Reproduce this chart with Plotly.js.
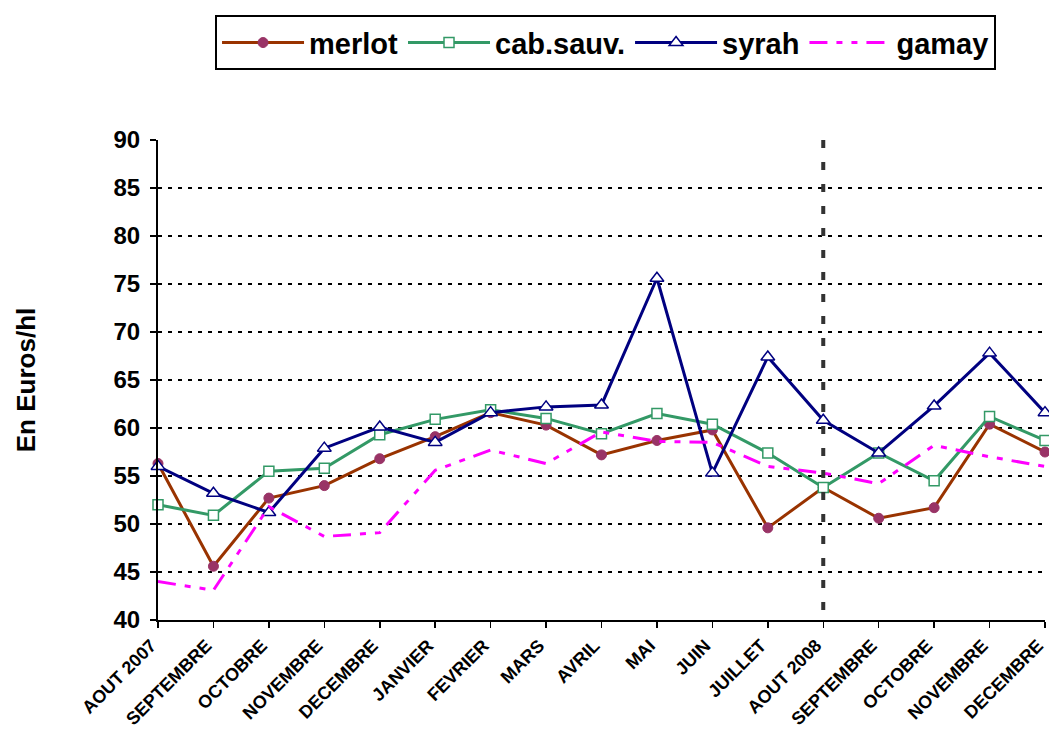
<!DOCTYPE html>
<html>
<head>
<meta charset="utf-8">
<script src="https://cdn.plot.ly/plotly-3.0.1.min.js"></script>
<style>html,body{margin:0;padding:0;background:#fff;}#chart{width:1049px;height:736px;}</style>
</head>
<body>
<div id="chart"></div>
<script>
const months = ['AOUT 2007','SEPTEMBRE','OCTOBRE','NOVEMBRE','DECEMBRE','JANVIER','FEVRIER','MARS','AVRIL','MAI','JUIN','JUILLET','AOUT 2008','SEPTEMBRE','OCTOBRE','NOVEMBRE','DECEMBRE'];
const merlot = [56.3, 45.6, 52.7, 54.0, 56.8, 59.1, 61.6, 60.3, 57.2, 58.7, 59.8, 49.6, 53.8, 50.6, 51.7, 60.4, 57.5];
const cabSauv = [52.0, 50.9, 55.5, 55.8, 59.3, 60.9, 61.9, 61.0, 59.4, 61.5, 60.4, 57.4, 53.8, 57.4, 54.5, 61.2, 58.7];
const syrah = [56.0, 53.2, 51.2, 57.9, 60.1, 58.5, 61.6, 62.2, 62.4, 75.6, 55.3, 67.4, 60.8, 57.4, 62.3, 67.8, 61.6];
const gamay = [44.0, 43.1, 51.8, 48.7, 49.1, 55.6, 57.7, 56.3, 59.6, 58.6, 58.5, 56.0, 55.3, 54.2, 58.2, 57.0, 56.0];
const seriesNames = ['merlot','cab.sauv.','syrah','gamay'];
const markerMonth = 'AOUT 2008';
const yTicks = [40,45,50,55,60,65,70,75,80,85,90];

const idx = months.map((m,i)=>i);
const FONT = 'Liberation Sans, Arial, sans-serif';

const traces = [
  {x: idx, y: merlot, name: seriesNames[0], mode: 'lines+markers', cliponaxis: false,
   line: {color: '#993300', width: 3},
   marker: {symbol: 'circle', size: 10, color: '#993366', line: {color: '#993366', width: 1}}},
  {x: idx, y: cabSauv, name: seriesNames[1], mode: 'lines+markers', cliponaxis: false,
   line: {color: '#339966', width: 3},
   marker: {symbol: 'square', size: 10, color: '#ffffff', line: {color: '#339966', width: 1.5}}},
  {x: idx, y: syrah, name: seriesNames[2], mode: 'lines+markers', cliponaxis: false,
   line: {color: '#000080', width: 3},
   marker: {symbol: 'triangle-up', size: 12, color: '#ffffff', line: {color: '#000080', width: 1.5}}},
  {x: idx, y: gamay, name: seriesNames[3], mode: 'lines', cliponaxis: false,
   line: {color: '#FF00FF', width: 3, dash: '18px,9px,6px,9px,6px,9px'}}
];

const vIdx = months.indexOf(markerMonth);

const layout = {
  width: 1049, height: 736,
  margin: {l: 158, r: 4, t: 140, b: 116},
  paper_bgcolor: '#ffffff', plot_bgcolor: '#ffffff',
  font: {family: FONT, color: '#000', weight: 'bold'},
  showlegend: true,
  legend: {orientation: 'h', x: 0.0643, y: 1.26, xanchor: 'left', yanchor: 'top',
    bgcolor: '#ffffff', bordercolor: '#000', borderwidth: 2,
    font: {family: FONT, size: 29, weight: 'bold', color: '#000'},
    itemwidth: 82, tracegroupgap: 0},
  xaxis: {
    range: [0, months.length - 1], tickmode: 'array', tickvals: idx, ticktext: months,
    tickangle: -45, tickfont: {family: FONT, size: 18, weight: 'bold'},
    ticklabeloverflow: 'allow', ticklabelshift: -7,
    showgrid: false, zeroline: false, showline: true, linecolor: '#000', linewidth: 2,
    ticks: 'outside', ticklen: 6, tickwidth: 1.5, tickcolor: '#000', automargin: false
  },
  yaxis: {
    range: [40, 90], tickmode: 'array', tickvals: yTicks,
    tickfont: {family: FONT, size: 24, weight: 'bold'},
    showgrid: true, gridcolor: '#000', gridwidth: 2.5, griddash: '4px,6px',
    zeroline: false, showline: true, linecolor: '#000', linewidth: 2,
    ticks: 'outside', ticklen: 6, tickwidth: 1.5, tickcolor: '#000',
    ticklabelstandoff: 5,
    title: {text: 'En Euros/hl', font: {family: FONT, size: 26, weight: 'bold'}, standoff: 70},
    automargin: false
  },
  shapes: [{type: 'line', xref: 'x', yref: 'paper', x0: vIdx, x1: vIdx, y0: 1, y1: 0,
    line: {color: '#333333', width: 4, dash: '8px,14px'}}]
};

Plotly.newPlot('chart', traces, layout, {displayModeBar: false, staticPlot: true});
</script>
</body>
</html>
